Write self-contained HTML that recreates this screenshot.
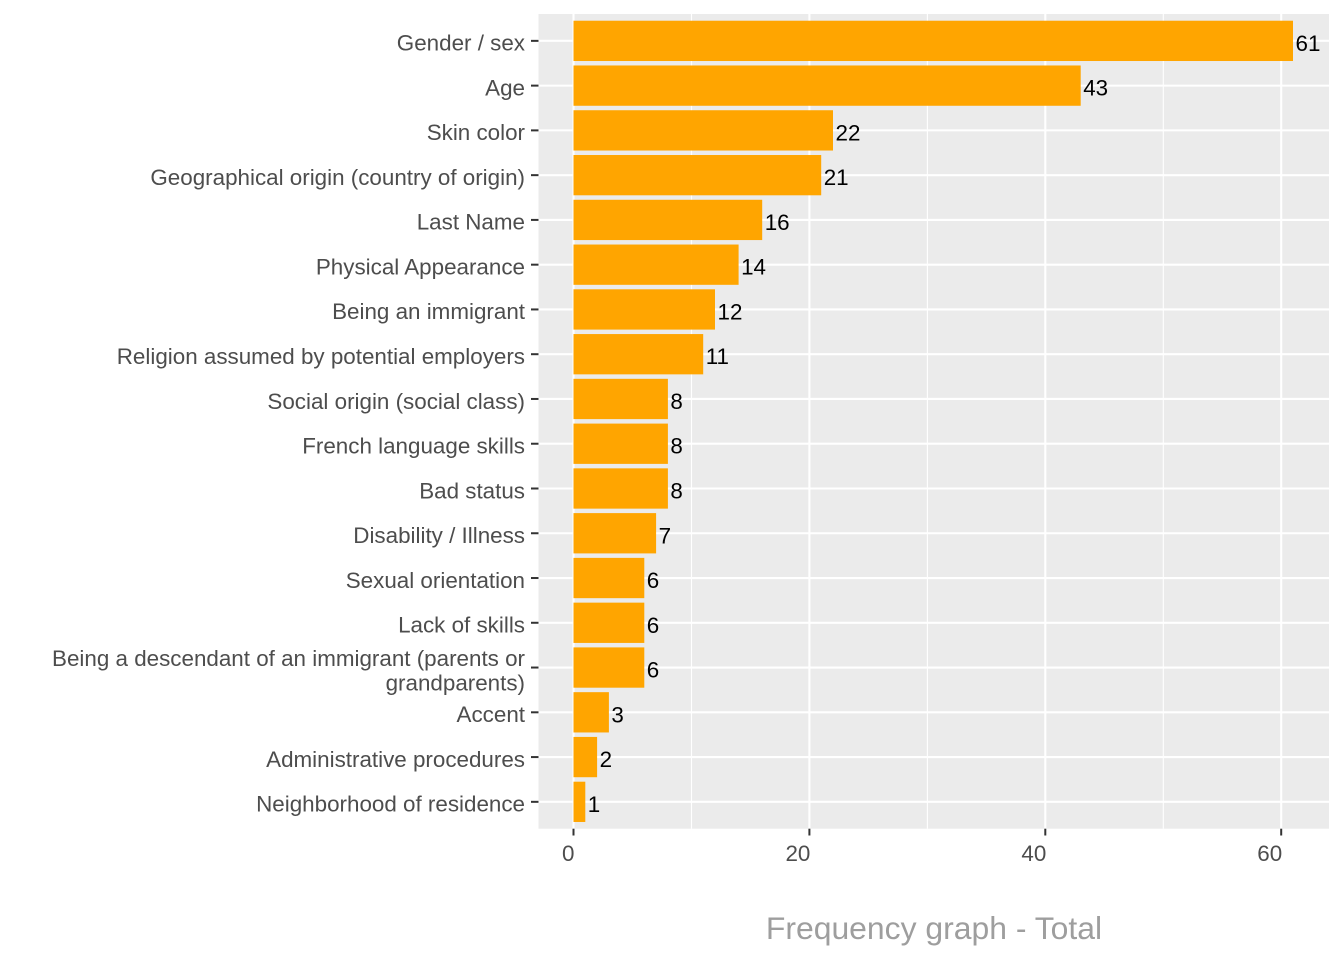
<!DOCTYPE html>
<html>
<head>
<meta charset="utf-8">
<style>
  html, body { margin: 0; padding: 0; background: #FFFFFF; }
  svg { display: block; }
  text { font-family: "Liberation Sans", Arial, sans-serif; }
  .yl { font-size: 22.4px; fill: #4D4D4D; text-anchor: end; }
  .xl { font-size: 22.4px; fill: #4D4D4D; text-anchor: end; }
  .vl { font-size: 22.4px; fill: #000000; }
</style>
</head>
<body>
<svg width="1344" height="960" viewBox="0 0 1344 960" xmlns="http://www.w3.org/2000/svg">
  <rect x="0" y="0" width="1344" height="960" fill="#FFFFFF"/>
  <!-- panel -->
  <rect x="538.5" y="14" width="790.5" height="814.7" fill="#EBEBEB"/>
  <!-- minor vertical gridlines -->
  <g stroke="#FFFFFF" stroke-width="1.1">
    <line x1="691.5" y1="14" x2="691.5" y2="828.7"/>
    <line x1="927.4" y1="14" x2="927.4" y2="828.7"/>
    <line x1="1163.3" y1="14" x2="1163.3" y2="828.7"/>
  </g>
  <!-- major vertical gridlines -->
  <g stroke="#FFFFFF" stroke-width="2.1">
    <line x1="573.5" y1="14" x2="573.5" y2="828.7"/>
    <line x1="809.4" y1="14" x2="809.4" y2="828.7"/>
    <line x1="1045.3" y1="14" x2="1045.3" y2="828.7"/>
    <line x1="1281.2" y1="14" x2="1281.2" y2="828.7"/>
  </g>
  <!-- horizontal gridlines -->
  <g stroke="#FFFFFF" stroke-width="2.1">
    <line x1="538.5" y1="40.86" x2="1329" y2="40.86"/>
    <line x1="538.5" y1="85.62" x2="1329" y2="85.62"/>
    <line x1="538.5" y1="130.38" x2="1329" y2="130.38"/>
    <line x1="538.5" y1="175.15" x2="1329" y2="175.15"/>
    <line x1="538.5" y1="219.91" x2="1329" y2="219.91"/>
    <line x1="538.5" y1="264.67" x2="1329" y2="264.67"/>
    <line x1="538.5" y1="309.44" x2="1329" y2="309.44"/>
    <line x1="538.5" y1="354.20" x2="1329" y2="354.20"/>
    <line x1="538.5" y1="398.96" x2="1329" y2="398.96"/>
    <line x1="538.5" y1="443.73" x2="1329" y2="443.73"/>
    <line x1="538.5" y1="488.49" x2="1329" y2="488.49"/>
    <line x1="538.5" y1="533.25" x2="1329" y2="533.25"/>
    <line x1="538.5" y1="578.02" x2="1329" y2="578.02"/>
    <line x1="538.5" y1="622.78" x2="1329" y2="622.78"/>
    <line x1="538.5" y1="667.54" x2="1329" y2="667.54"/>
    <line x1="538.5" y1="712.31" x2="1329" y2="712.31"/>
    <line x1="538.5" y1="757.07" x2="1329" y2="757.07"/>
    <line x1="538.5" y1="801.83" x2="1329" y2="801.83"/>
  </g>
  <!-- bars -->
  <g fill="#FFA500">
    <rect x="573.5" y="20.72" width="719.5" height="40.29"/>
    <rect x="573.5" y="65.48" width="507.2" height="40.29"/>
    <rect x="573.5" y="110.24" width="259.5" height="40.29"/>
    <rect x="573.5" y="155.01" width="247.7" height="40.29"/>
    <rect x="573.5" y="199.77" width="188.7" height="40.29"/>
    <rect x="573.5" y="244.53" width="165.1" height="40.29"/>
    <rect x="573.5" y="289.30" width="141.5" height="40.29"/>
    <rect x="573.5" y="334.06" width="129.7" height="40.29"/>
    <rect x="573.5" y="378.82" width="94.4" height="40.29"/>
    <rect x="573.5" y="423.59" width="94.4" height="40.29"/>
    <rect x="573.5" y="468.35" width="94.4" height="40.29"/>
    <rect x="573.5" y="513.11" width="82.6" height="40.29"/>
    <rect x="573.5" y="557.88" width="70.8" height="40.29"/>
    <rect x="573.5" y="602.64" width="70.8" height="40.29"/>
    <rect x="573.5" y="647.40" width="70.8" height="40.29"/>
    <rect x="573.5" y="692.17" width="35.4" height="40.29"/>
    <rect x="573.5" y="736.93" width="23.6" height="40.29"/>
    <rect x="573.5" y="781.69" width="11.8" height="40.29"/>
  </g>
  <!-- value labels -->
  <g class="vl">
    <text x="1295.5" y="50.9">61</text>
    <text x="1083.2" y="95.6">43</text>
    <text x="835.5" y="140.4">22</text>
    <text x="823.7" y="185.2">21</text>
    <text x="764.7" y="229.9">16</text>
    <text x="741.1" y="274.7">14</text>
    <text x="717.5" y="319.4">12</text>
    <text x="705.7" y="364.2">11</text>
    <text x="670.4" y="409">8</text>
    <text x="670.4" y="453.7">8</text>
    <text x="670.4" y="498.5">8</text>
    <text x="658.6" y="543.3">7</text>
    <text x="646.8" y="588">6</text>
    <text x="646.8" y="632.8">6</text>
    <text x="646.8" y="677.5">6</text>
    <text x="611.4" y="722.3">3</text>
    <text x="599.6" y="767.1">2</text>
    <text x="587.8" y="811.8">1</text>
  </g>
  <!-- y ticks -->
  <g stroke="#333333" stroke-width="2">
    <line x1="531" y1="40.86" x2="538.5" y2="40.86"/>
    <line x1="531" y1="85.62" x2="538.5" y2="85.62"/>
    <line x1="531" y1="130.38" x2="538.5" y2="130.38"/>
    <line x1="531" y1="175.15" x2="538.5" y2="175.15"/>
    <line x1="531" y1="219.91" x2="538.5" y2="219.91"/>
    <line x1="531" y1="264.67" x2="538.5" y2="264.67"/>
    <line x1="531" y1="309.44" x2="538.5" y2="309.44"/>
    <line x1="531" y1="354.20" x2="538.5" y2="354.20"/>
    <line x1="531" y1="398.96" x2="538.5" y2="398.96"/>
    <line x1="531" y1="443.73" x2="538.5" y2="443.73"/>
    <line x1="531" y1="488.49" x2="538.5" y2="488.49"/>
    <line x1="531" y1="533.25" x2="538.5" y2="533.25"/>
    <line x1="531" y1="578.02" x2="538.5" y2="578.02"/>
    <line x1="531" y1="622.78" x2="538.5" y2="622.78"/>
    <line x1="531" y1="667.54" x2="538.5" y2="667.54"/>
    <line x1="531" y1="712.31" x2="538.5" y2="712.31"/>
    <line x1="531" y1="757.07" x2="538.5" y2="757.07"/>
    <line x1="531" y1="801.83" x2="538.5" y2="801.83"/>
  </g>
  <!-- y labels -->
  <g class="yl">
    <text x="525" y="50.7">Gender / sex</text>
    <text x="525" y="95.4">Age</text>
    <text x="525" y="140.2">Skin color</text>
    <text x="525" y="185">Geographical origin (country of origin)</text>
    <text x="525" y="229.7">Last Name</text>
    <text x="525" y="274.5">Physical Appearance</text>
    <text x="525" y="319.2">Being an immigrant</text>
    <text x="525" y="364">Religion assumed by potential employers</text>
    <text x="525" y="408.8">Social origin (social class)</text>
    <text x="525" y="453.5">French language skills</text>
    <text x="525" y="498.3">Bad status</text>
    <text x="525" y="543.1">Disability / Illness</text>
    <text x="525" y="587.8">Sexual orientation</text>
    <text x="525" y="632.6">Lack of skills</text>
    <text x="525" y="666">Being a descendant of an immigrant (parents or</text>
    <text x="525" y="690.3">grandparents)</text>
    <text x="525" y="722.1">Accent</text>
    <text x="525" y="766.9">Administrative procedures</text>
    <text x="525" y="811.6">Neighborhood of residence</text>
  </g>
  <!-- x ticks -->
  <g stroke="#333333" stroke-width="2">
    <line x1="573.5" y1="828.7" x2="573.5" y2="835.5"/>
    <line x1="809.4" y1="828.7" x2="809.4" y2="835.5"/>
    <line x1="1045.3" y1="828.7" x2="1045.3" y2="835.5"/>
    <line x1="1281.2" y1="828.7" x2="1281.2" y2="835.5"/>
  </g>
  <!-- x labels -->
  <g class="xl">
    <text x="574.5" y="861">0</text>
    <text x="810.4" y="861">20</text>
    <text x="1046.3" y="861">40</text>
    <text x="1282.2" y="861">60</text>
  </g>
  <!-- title -->
  <text x="934" y="939" text-anchor="middle" font-size="31.9" fill="#9E9E9E">Frequency graph - Total</text>
</svg>
</body>
</html>
